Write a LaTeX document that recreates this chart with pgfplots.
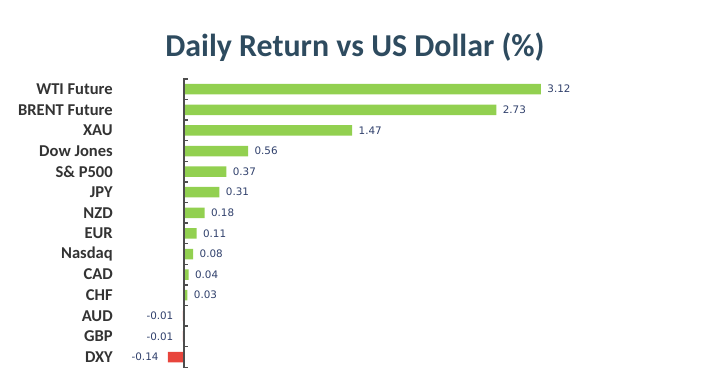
\documentclass[border=0pt]{standalone}
\usepackage{pgfplots}
\usepackage{pgfplotstable}
\pgfplotsset{compat=1.18}
\usepackage{fontspec}
\setmainfont{Carlito}
\newfontfamily\valfont{DejaVu Sans}
\definecolor{barg}{HTML}{92D050}
\definecolor{barr}{HTML}{E8453C}
\definecolor{titc}{HTML}{2E4B5F}
\definecolor{labc}{HTML}{333333}
\definecolor{valc}{HTML}{2F3F6B}
\definecolor{axc}{HTML}{4D4D4D}

\pgfplotstableread{
y x lab
0 3.12 3.12
1 2.73 2.73
2 1.47 1.47
3 0.56 0.56
4 0.37 0.37
5 0.31 0.31
6 0.18 0.18
7 0.11 0.11
8 0.08 0.08
9 0.04 0.04
10 0.03 0.03
}\postab
\pgfplotstableread{
y x lab
11 -0.01 -0.01
12 -0.01 -0.01
13 -0.14 -0.14
}\negtab

\begin{document}
\begin{tikzpicture}
\useasboundingbox (0,0) rectangle (710bp,377bp);
\node[font=\bfseries\fontsize{32}{36}\selectfont, text=titc] at (355bp,330bp) {Daily Return vs US Dollar (\%)};
\begin{axis}[
  at={(138.24bp,9.7bp)}, anchor=south west,
  scale only axis, width=457.6bp, height=288.4bp,
  xmin=-0.4, xmax=3.6, ymin=-0.5, ymax=13.5,
  y dir=reverse,
  xbar, bar width=10.5bp, bar shift=0pt,
  axis line style={draw=none},
  xtick=\empty,
  ytick={0,...,13},
  yticklabels={WTI Future,BRENT Future,XAU,Dow Jones,S\& P500,JPY,NZD,EUR,Nasdaq,CAD,CHF,AUD,GBP,DXY},
  major tick length=0,
  yticklabel style={font=\bfseries\fontsize{16.6}{18}\selectfont, text=labc, xshift=-22bp},
  clip=false,
  nodes near coords,
  point meta=explicit symbolic,
  nodes near coords style={font=\valfont\fontsize{10.4}{12}\selectfont, text=valc},
]
\addplot[fill=barg, draw=none, bar shift=0pt, every node near coord/.append style={anchor=west, xshift=3bp}] table[x=x, y=y, meta=lab] {\postab};
\addplot[fill=barr, draw=none, bar shift=0pt, every node near coord/.append style={anchor=east, xshift=-6bp}] table[x=x, y=y, meta=lab] {\negtab};
\draw[axc, line width=1.8bp] (axis cs:0,-0.5) -- (axis cs:0,13.5);
\pgfplotsinvokeforeach{-0.5,0.5,...,13.5}{\draw[axc, line width=1.3bp] ([xshift=-1bp]axis cs:0,#1) -- ([xshift=4bp]axis cs:0,#1);}
\end{axis}
\end{tikzpicture}
\end{document}
